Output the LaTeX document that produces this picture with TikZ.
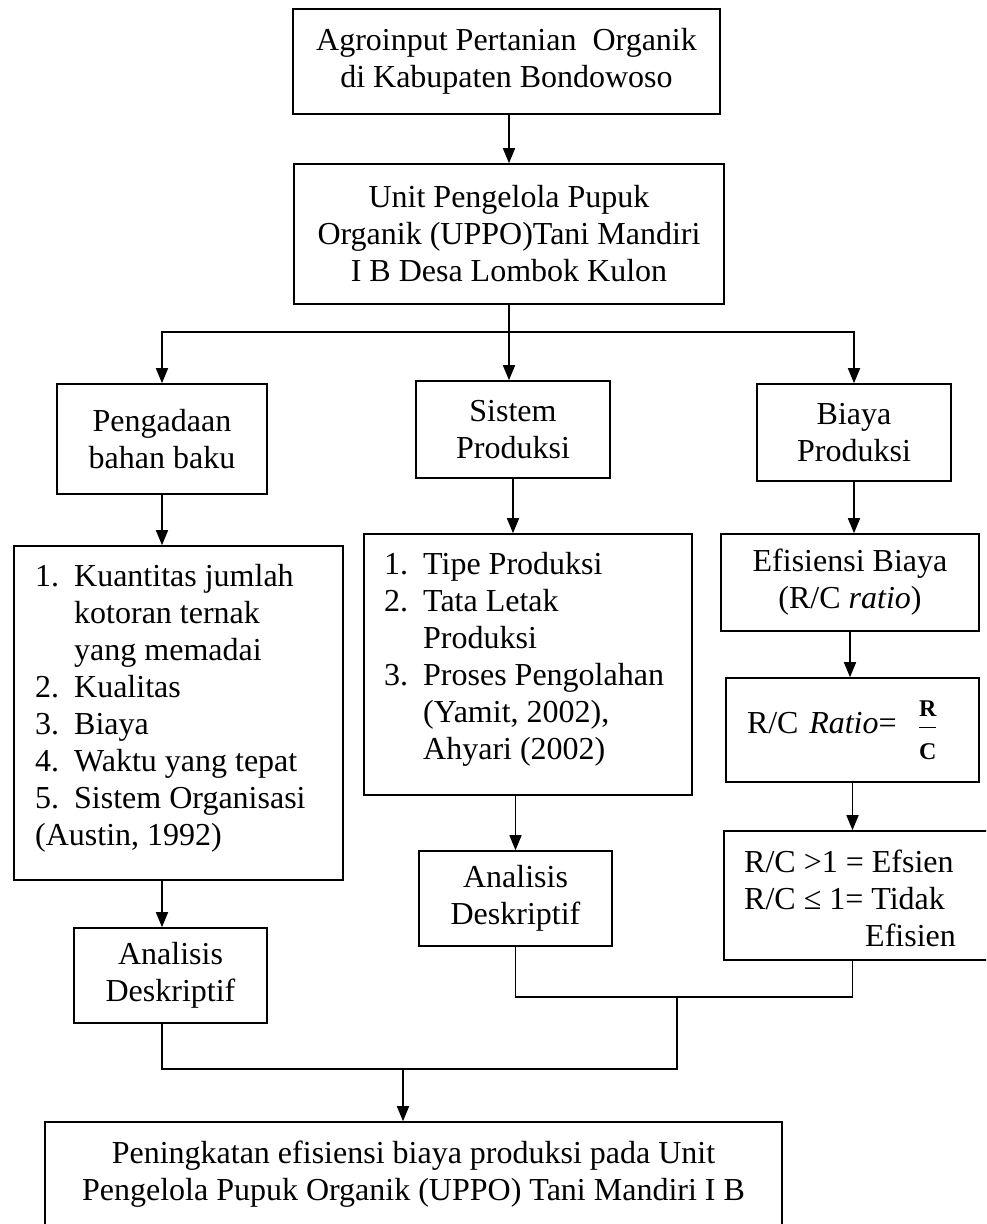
\documentclass[tikz,border=0pt]{standalone}
\usepackage{fontspec}
\setmainfont{Liberation Serif}
\usetikzlibrary{arrows.meta}
\newcommand\bodyfont{\fontsize{32}{37}\selectfont}
\tikzset{
  box/.style={draw, line width=1.6pt, inner sep=0pt, align=center, font=\bodyfont},
  txt/.style={inner sep=0pt, align=left, font=\bodyfont, anchor=north west},
  ln/.style={line width=1.6pt},
  arr/.style={line width=1.6pt, -{Triangle[length=15pt,width=12pt]}},
}
\newcommand\itm[1]{\makebox[39pt][l]{#1}}
\newcommand\fracfont{\fontsize{24}{26}\selectfont\bfseries}
\begin{document}
\begin{tikzpicture}[x=1pt,y=1pt]
\useasboundingbox (0,0) rectangle (986,-1224);
\clip (0,0) rectangle (986,-1224);
% boxes
\node[box, minimum width=427pt, minimum height=105pt] (top) at (506.5,-61.5)
  {Agroinput Pertanian\ \ Organik\\di Kabupaten Bondowoso};
\node[box, minimum width=430pt, minimum height=140pt] (b2) at (509,-234)
  {Unit Pengelola Pupuk\\Organik (UPPO)Tani Mandiri\\I B Desa Lombok Kulon};
\node[box, minimum width=210pt, minimum height=110pt] (P) at (162,-439)
  {Pengadaan\\bahan baku};
\node[box, minimum width=194pt, minimum height=97pt] (S) at (513,-429.5)
  {Sistem\\Produksi};
\node[box, minimum width=194pt, minimum height=97pt] (B) at (854,-432.5)
  {Biaya\\Produksi};
\node[box, minimum width=329pt, minimum height=334pt] (L1) at (178.5,-713) {};
\node[txt] (L1t) at (35,-564)
  {\itm{1.}Kuantitas jumlah\\\itm{}kotoran ternak\\\itm{}yang memadai\\
   \itm{2.}Kualitas\\\itm{3.}Biaya\\\itm{4.}Waktu yang tepat\\
   \itm{5.}Sistem Organisasi\\(Austin, 1992)};
\node[box, minimum width=328pt, minimum height=261pt] (L2) at (528,-664.5) {};
\node[txt] (L2t) at (384,-552)
  {\itm{1.}Tipe Produksi\\\itm{2.}Tata Letak\\\itm{}Produksi\\
   \itm{3.}Proses Pengolahan\\\itm{}(Yamit, 2002),\\\itm{}Ahyari (2002)};
\node[box, minimum width=258pt, minimum height=97pt] (E) at (850,-582.5)
  {Efisiensi Biaya\\(R/C \textit{ratio})};
\node[box, minimum width=253pt, minimum height=104pt, text width=211pt, align=left] (R) at (852.5,-730)
  {R/C \textit{Ratio}=\ \ $\displaystyle\frac{\mbox{\fracfont R}\rule[-9pt]{0pt}{9pt}}{\rule{0pt}{31pt}\mbox{\fracfont C}}$};
\node[box, minimum width=276pt, minimum height=129pt] (C) at (862,-895.5) {};
\node[txt] (Ct) at (744,-850)
  {R/C >1 = Efsien\\R/C ≤ 1= Tidak\\\hspace*{121pt}Efisien};
\node[box, minimum width=193pt, minimum height=95pt] (A1) at (170.5,-975.5)
  {Analisis\\Deskriptif};
\node[box, minimum width=193pt, minimum height=95pt] (A2) at (515.5,-898.5)
  {Analisis\\Deskriptif};
\node[box, minimum width=737pt, minimum height=105pt] (F) at (413.5,-1174.5)
  {Peningkatan efisiensi biaya produksi pada Unit\\Pengelola Pupuk Organik (UPPO) Tani Mandiri I B};
% connectors
\draw[arr] (top.south -| b2.north) -- (b2.north);
\coordinate (j1) at (509,-332);
\draw[arr] (b2.south) -- (b2.south |- S.north);
\draw[arr] (j1) -| (P.north);
\draw[arr] (j1) -| (B.north);
\draw[arr] (P.south) -- (P.south |- L1.north);
\draw[arr] (S.south) -- (S.south |- L2.north);
\draw[arr] (B.south) -- (B.south |- E.north);
\draw[arr] (E.south) -- (E.south |- R.north);
\draw[arr] (R.south) -- (R.south |- C.north);
\draw[arr] (P.south |- L1.south) -- (P.south |- A1.north);
\draw[arr] (A2.north |- L2.south) -- (A2.north);
\coordinate (j2) at (677,-997);
\coordinate (j3) at (677,-1069);
\coordinate (j4) at (403,-1069);
\draw[ln] (A2.south) |- (j2) -| (R.south |- C.south);
\draw[ln] (P.south |- A1.south) |- (j3) -- (j2);
\draw[arr] (j4) -- (j4 |- F.north);
\end{tikzpicture}
\end{document}
